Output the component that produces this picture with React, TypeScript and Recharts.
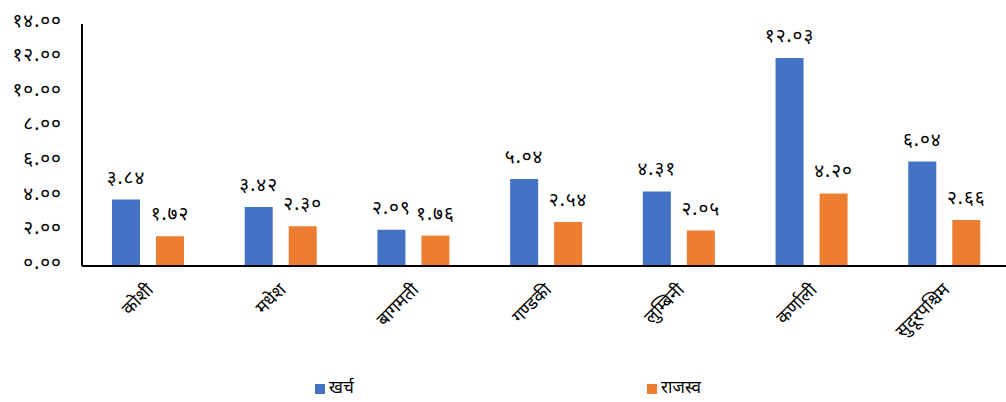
import React from 'react';
import { BarChart, Bar, XAxis, YAxis, LabelList } from 'recharts';

const provinces = ['कोशी', 'मधेश', 'बागमती', 'गण्डकी', 'लुम्बिनी', 'कर्णाली', 'सुदूरपश्चिम'];
const expenditure = [3.84, 3.42, 2.09, 5.04, 4.31, 12.03, 6.04];
const revenue = [1.72, 2.30, 1.76, 2.54, 2.05, 4.20, 2.66];
const yTicks = [0, 2, 4, 6, 8, 10, 12, 14];

const BLUE = '#4472C4';
const ORANGE = '#ED7D31';
const FONT = '"Noto Sans Devanagari", "Noto Sans", "DejaVu Sans", sans-serif';

const data = provinces.map((name, i) => ({
  name,
  kharcha: expenditure[i],
  rajaswa: revenue[i],
}));

/* convert ascii digits to Devanagari digits */
const toNepali = (s: string) =>
  s.replace(/[0-9]/g, (d) => String.fromCharCode(0x0966 + Number(d)));

const fmt = (v: any) => toNepali(Number(v).toFixed(2));

function CategoryTick({ x, y, payload }: any) {
  return (
    <g transform={`translate(${x + 6},${y + 23})`}>
      <text
        x={0}
        y={0}
        textAnchor="end"
        transform="rotate(-45)"
        fontSize={18}
        fontFamily={FONT}
        fill="#000"
      >
        {payload.value}
      </text>
    </g>
  );
}

function LegendItem({ left, color, label }: { left: number; color: string; label: string }) {
  return (
    <div style={{ position: 'absolute', left, top: 378, display: 'flex', alignItems: 'center', fontFamily: FONT, fontSize: 17, color: '#000' }}>
      <span style={{ width: 10, height: 10, background: color, display: 'inline-block', marginRight: 4 }} />
      <span>{label}</span>
    </div>
  );
}

export default function App() {
  return (
    <div style={{ position: 'absolute', left: 0, top: 0, width: 1006, height: 402, overflow: 'hidden', background: '#fff' }}>
      <BarChart
        width={1012}
        height={402}
        data={data}
        margin={{ top: 24, right: 1, left: 0, bottom: 0 }}
        barGap={16}
        barSize={28}
      >
        <XAxis
          dataKey="name"
          height={136}
          interval={0}
          tickLine={false}
          tickSize={0}
          axisLine={{ stroke: '#000', strokeWidth: 2 }}
          tick={<CategoryTick />}
        />
        <YAxis
          width={82}
          domain={[0, 14]}
          ticks={yTicks}
          tickFormatter={fmt}
          tickLine={false}
          tickSize={0}
          tickMargin={20}
          axisLine={{ stroke: '#000', strokeWidth: 2 }}
          tick={{ fontSize: 19, fill: '#000', fontFamily: FONT, dy: -4, letterSpacing: 1 }}
        />
        <Bar dataKey="kharcha" fill={BLUE} isAnimationActive={false}>
          <LabelList dataKey="kharcha" position="top" offset={16} formatter={fmt} fill="#000" fontSize={19} fontFamily={FONT} letterSpacing={1} />
        </Bar>
        <Bar dataKey="rajaswa" fill={ORANGE} isAnimationActive={false}>
          <LabelList dataKey="rajaswa" position="top" offset={16} formatter={fmt} fill="#000" fontSize={19} fontFamily={FONT} letterSpacing={1} />
        </Bar>
      </BarChart>
      <LegendItem left={315} color={BLUE} label="खर्च" />
      <LegendItem left={647} color={ORANGE} label="राजस्व" />
    </div>
  );
}
